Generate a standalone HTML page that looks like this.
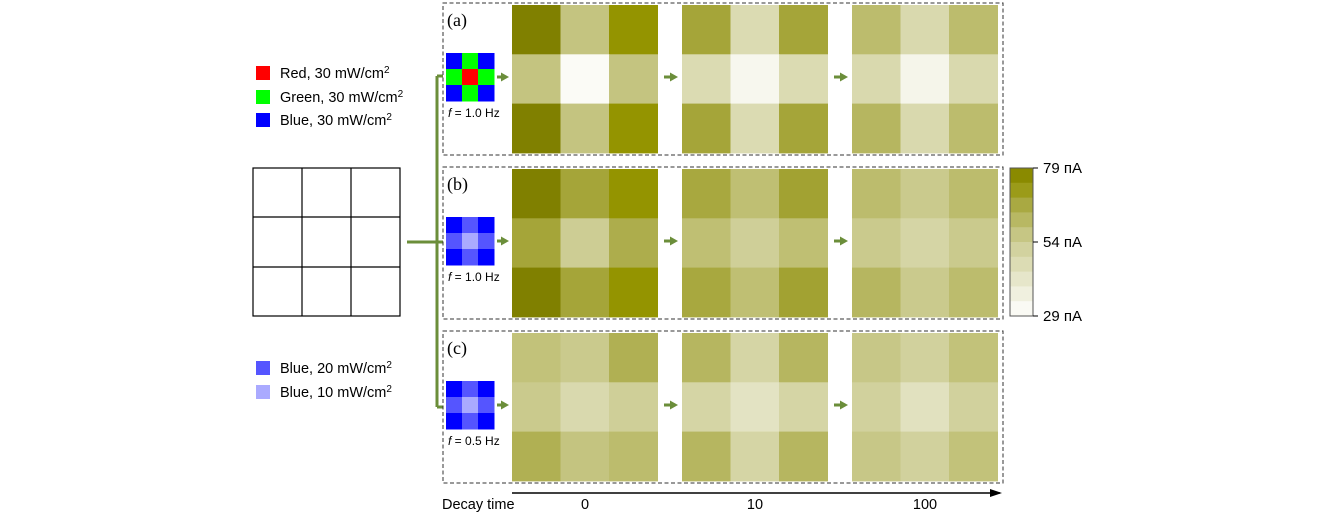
<!DOCTYPE html>
<html><head><meta charset="utf-8"><style>
body{margin:0;background:#fff;width:1339px;height:520px;overflow:hidden}
svg{display:block;font-family:"Liberation Sans",sans-serif}
</style></head><body>
<svg id="fig" width="1339" height="520" viewBox="0 0 1339 520">
<defs><marker id="ah" markerUnits="userSpaceOnUse" markerWidth="8" markerHeight="9" refX="1" refY="4.5" orient="auto"><path d="M0,0 L8,4.5 L0,9 z" fill="#6b8e3a"/></marker>
<marker id="bh" markerUnits="userSpaceOnUse" markerWidth="12" markerHeight="10" refX="10" refY="5" orient="auto"><path d="M0,1 L12,5 L0,9 z" fill="#000"/></marker></defs>
<g font-size="14.5">
<rect x="256" y="66" width="14" height="14" fill="#f00"/><text x="280" y="78">Red, 30 mW/cm<tspan font-size="10" dy="-5">2</tspan></text>
<rect x="256" y="90" width="14" height="14" fill="#0f0"/><text x="280" y="102">Green, 30 mW/cm<tspan font-size="10" dy="-5">2</tspan></text>
<rect x="256" y="113" width="14" height="14" fill="#00f"/><text x="280" y="125">Blue, 30 mW/cm<tspan font-size="10" dy="-5">2</tspan></text>
<rect x="256" y="361" width="14" height="14" fill="#5555ff"/><text x="280" y="373">Blue, 20 mW/cm<tspan font-size="10" dy="-5">2</tspan></text>
<rect x="256" y="385" width="14" height="14" fill="#aaaaff"/><text x="280" y="397">Blue, 10 mW/cm<tspan font-size="10" dy="-5">2</tspan></text>
</g>
<g stroke="#000" stroke-width="1.2" fill="none">
<rect x="253" y="168" width="147" height="148"/><line x1="302" y1="168" x2="302" y2="316"/><line x1="351" y1="168" x2="351" y2="316"/><line x1="253" y1="217" x2="400" y2="217"/><line x1="253" y1="267" x2="400" y2="267"/>
</g>
<g stroke="#6b8e3a" stroke-width="3" fill="none">
<line x1="407" y1="242" x2="437" y2="242"/><line x1="437" y1="76" x2="437" y2="407"/>
<line x1="437" y1="76" x2="443" y2="76"/><line x1="437" y1="242" x2="443" y2="242"/><line x1="437" y1="407" x2="443" y2="407"/>
</g>
<g id="panels"></g>
<g id="cbar"></g>
<g>
<line x1="512" y1="493" x2="1000" y2="493" stroke="#000" stroke-width="1.5" marker-end="url(#bh)"/>
<text x="442" y="509" font-size="14.5">Decay time</text>
<text x="585" y="509" font-size="14.5" text-anchor="middle">0</text>
<text x="755" y="509" font-size="14.5" text-anchor="middle">10</text>
<text x="925" y="509" font-size="14.5" text-anchor="middle">100</text>
</g>
</svg>
<script>
const panelLabels=['(a)','(b)','(c)'];
const freqLabels=['1.0','1.0','0.5'];
const timeLabels=['0','10','100'];
const panelA=[[[79,57,74],[57,31,57],[79,57,74]],[[68,47,68],[47,33,47],[68,47,68]],[[60,48,60],[48,34,48],[62,48,60]]];
const panelB=[[[79,68,74],[68,54,65],[79,68,74]],[[67,59,69],[59,53,59],[67,59,69]],[[60,55,60],[55,50,55],[62,55,60]]];
const panelC=[[[58,55,64],[55,48,53],[64,57,60]],[[62,50,62],[50,43,50],[62,50,62]],[[56,52,58],[52,44,52],[56,52,58]]];
const cbarTicks=[79,54,29];
const inputPatterns=[[['#00f','#0f0','#00f'],['#0f0','#f00','#0f0'],['#00f','#0f0','#00f']],[['#00f','#55f','#00f'],['#55f','#aaf','#55f'],['#00f','#55f','#00f']],[['#00f','#55f','#00f'],['#55f','#aaf','#55f'],['#00f','#55f','#00f']]];
const vmin=29,vmax=79;
const stops=[[0,[255,255,255]],[0.5,[205,205,148]],[0.8,[162,162,50]],[0.9,[148,148,0]],[1,[128,128,0]]];
function color(v){let t=Math.max(0,Math.min(1,(v-vmin)/(vmax-vmin)));for(let i=1;i<stops.length;i++){if(t<=stops[i][0]){const a=stops[i-1],b=stops[i],f=(t-a[0])/(b[0]-a[0]);return 'rgb('+a[1].map((c,k)=>Math.round(c+(b[1][k]-c)*f)).join(',')+')';}}return 'rgb(128,128,0)';}
const NS='http://www.w3.org/2000/svg';
function mk(tag,at,parent){const e=document.createElementNS(NS,tag);for(const k in at)e.setAttribute(k,at[k]);parent.appendChild(e);return e;}
const panels=document.getElementById('panels');
const data=[panelA,panelB,panelC];
const panelTop=[3,167,331];
const blockX=[512,682,852];
data.forEach((pd,p)=>{
 const g=mk('g',{},panels);
 
 
 const y0=panelTop[p];
 mk('rect',{x:443,y:y0,width:560,height:152,fill:'none',stroke:'#333','stroke-dasharray':'4,2.5','stroke-width':1},g);
 const t=mk('text',{x:447,y:y0+23,'font-size':18,'font-family':'Liberation Serif,serif'},g);t.textContent=panelLabels[p];
 inputPatterns[p].forEach((row,r)=>row.forEach((c,cc)=>{const e=mk('rect',{x:446+cc*16,y:y0+50+r*16,width:16.5,height:16.5,fill:c},g);
  
  }));
 const f=mk('text',{x:448,y:y0+114,'font-size':12},g);f.innerHTML='<tspan font-style="italic">f</tspan> = '+freqLabels[p]+' Hz';
 const ay=y0+74;
 mk('line',{x1:497,y1:ay,x2:502,y2:ay,stroke:'#6b8e3a','stroke-width':3,'marker-end':'url(#ah)'},g);
 mk('line',{x1:664,y1:ay,x2:671,y2:ay,stroke:'#6b8e3a','stroke-width':3,'marker-end':'url(#ah)'},g);
 mk('line',{x1:834,y1:ay,x2:841,y2:ay,stroke:'#6b8e3a','stroke-width':3,'marker-end':'url(#ah)'},g);
 pd.forEach((blk,b)=>blk.forEach((row,r)=>row.forEach((v,c)=>{
  const e=mk('rect',{x:blockX[b]+c*48.5,y:y0+2+r*49.3,width:49,height:49.8,fill:color(v)},g);
  
  
 })));
});
const cb=document.getElementById('cbar');
const cy0=168,ch=148,n=10;
for(let i=0;i<n;i++){const v=vmax-(i+0.5)*(vmax-vmin)/n;const e=mk('rect',{x:1010,y:cy0+i*ch/n,width:23,height:ch/n+0.5,fill:color(v)},cb);
 
 }
mk('rect',{x:1010,y:cy0,width:23,height:ch,fill:'none',stroke:'#555','stroke-width':1},cb);
cbarTicks.forEach(v=>{const y=cy0+(vmax-v)/(vmax-vmin)*ch;mk('line',{x1:1033,y1:y,x2:1038,y2:y,stroke:'#000'},cb);const t=mk('text',{x:1043,y:y+5,'font-size':15},cb);t.textContent=v+' пA';});
</script>
</body></html>
